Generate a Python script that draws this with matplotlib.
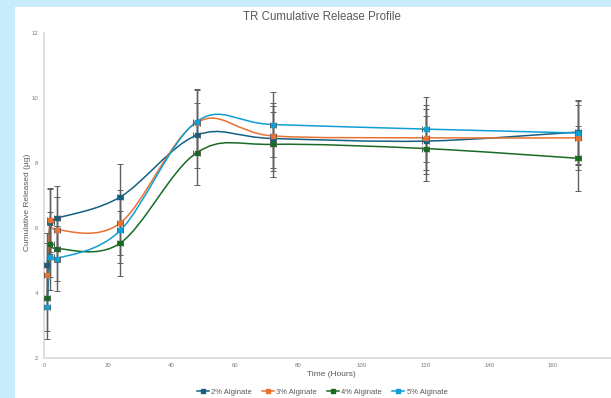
import matplotlib
matplotlib.use("Agg")
import matplotlib.pyplot as plt
from matplotlib.path import Path
from matplotlib.patches import PathPatch, Rectangle
from matplotlib.lines import Line2D

plt.rcParams['font.family'] = ['Liberation Sans', 'DejaVu Sans']

# sampling times (hours) and mean cumulative release (ug)
hours = [1, 2, 4, 24, 48, 72, 120, 168]
alg_2 = [4.85, 6.20, 6.30, 6.96, 8.86, 8.76, 8.68, 8.96]
alg_3 = [4.55, 6.25, 5.95, 6.16, 9.25, 8.84, 8.78, 8.78]
alg_4 = [3.84, 5.50, 5.37, 5.54, 8.32, 8.58, 8.45, 8.15]
alg_5 = [3.58, 5.10, 5.06, 5.93, 9.28, 9.19, 9.05, 8.93]
labels = ['2% Alginate', '3% Alginate', '4% Alginate', '5% Alginate']
colors = ['#156082', '#E97132', '#196B24', '#0F9ED5']
y_err = 1.0
x_err = 1.0
y_ticks = [2, 4, 6, 8, 10, 12]
x_ticks = [0, 20, 40, 60, 80, 100, 120, 140, 160]


def smooth_path(xs, ys):
    # bezier through the points, control points from neighbouring points (1/6 rule)
    pts = list(zip(xs, ys))
    n = len(pts)
    verts = [pts[0]]
    codes = [Path.MOVETO]
    for i in range(n - 1):
        p0 = pts[max(i - 1, 0)]
        p1 = pts[i]
        p2 = pts[i + 1]
        p3 = pts[min(i + 2, n - 1)]
        c1 = (p1[0] + (p2[0] - p0[0]) / 6, p1[1] + (p2[1] - p0[1]) / 6)
        c2 = (p2[0] - (p3[0] - p1[0]) / 6, p2[1] - (p3[1] - p1[1]) / 6)
        verts += [c1, c2, p2]
        codes += [Path.CURVE4] * 3
    return Path(verts, codes)


W, H = 611, 398
fig = plt.figure(figsize=(W / 100, H / 100), dpi=100)
fig.patch.set_facecolor('#c9ecfb')
fig.patches.append(Rectangle((15 / W, 0), 1, 1 - 7 / H, transform=fig.transFigure,
                             facecolor='white', edgecolor='none', zorder=-10))

ax = fig.add_axes([44 / W, 40 / H, 572.4 / W, (358 - 33.3) / H])
ax.set_facecolor('none')
ax.set_xlim(0, 180)
ax.set_ylim(2, 12)

series = [alg_2, alg_3, alg_4, alg_5]
handles = []
for vals, c, lab in zip(series, colors, labels):
    ax.add_patch(PathPatch(smooth_path(hours, vals), facecolor='none', edgecolor=c,
                           lw=1.1, zorder=2))
    ax.errorbar(hours, vals, yerr=y_err, xerr=x_err, fmt='none', ecolor='#606060',
                elinewidth=1.0, capsize=2, capthick=0.7, zorder=3)
    ax.plot(hours, vals, 's', ms=2.4, color=c, zorder=4)
    handles.append(Line2D([], [], color=c, lw=1.1, marker='s', ms=2.2))

for s in ['top', 'right']:
    ax.spines[s].set_visible(False)
for s in ['left', 'bottom']:
    ax.spines[s].set_color('#d9d9d9')
    ax.spines[s].set_linewidth(1.2)

ax.set_xticks(x_ticks)
ax.set_yticks(y_ticks)
ax.tick_params(length=0, labelsize=4.3, labelcolor='#7a7a7a')
ax.tick_params(axis='y', pad=4.3)
ax.tick_params(axis='x', pad=3.6)

fig.text(322 / W, 1 - 17 / H, 'TR Cumulative Release Profile', ha='center', va='center',
         fontsize=8.3, color='#595959')
fig.text(28 / W, 1 - 202 / H, 'Cumulative Released (µg)', rotation=90, ha='center',
         va='center', fontsize=6, color='#595959')
fig.text(331 / W, 1 - 375 / H, 'Time (Hours)', ha='center', va='center',
         fontsize=6, color='#595959')

fig.legend(handles, labels, loc='center', bbox_to_anchor=(322 / W, 6 / H), ncol=4,
           frameon=False, fontsize=5.5, labelcolor='#595959', handlelength=1.6,
           handletextpad=0.3, columnspacing=1.3)

fig.savefig('out.png', dpi=100, facecolor=fig.get_facecolor())
